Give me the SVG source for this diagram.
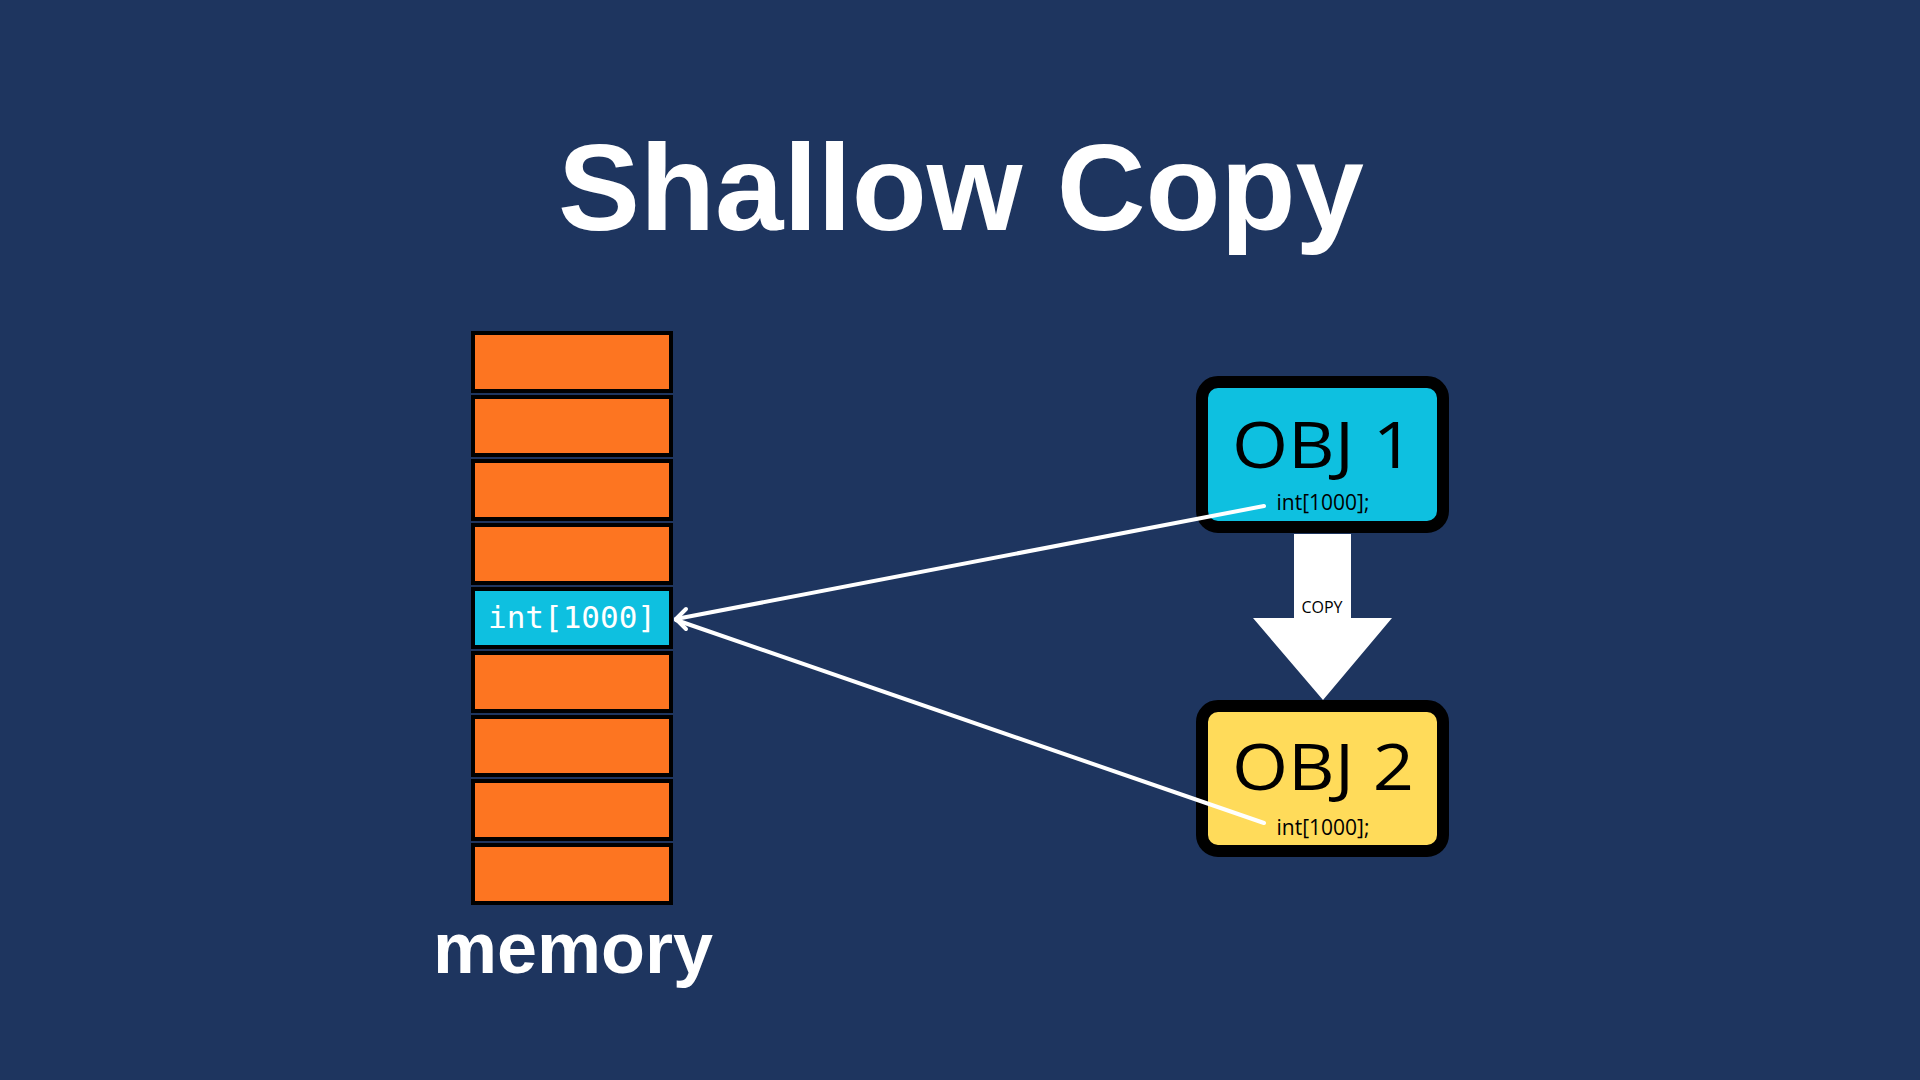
<svg xmlns="http://www.w3.org/2000/svg" width="1920" height="1080" viewBox="0 0 1920 1080">
<style>
.cell{fill:#fd7521;stroke:#000;stroke-width:4}
.cellb{fill:#0ec0e0;stroke:#000;stroke-width:4}
.obj{stroke:#000;stroke-width:12}
.big{font-family:"Open Sans","Noto Sans",sans-serif;font-size:64px;fill:#000;text-anchor:middle}
.small{font-family:"Open Sans","Noto Sans",sans-serif;font-size:21px;fill:#000;text-anchor:middle}
.conn{stroke:#fff;stroke-width:4;fill:none;stroke-linecap:round;stroke-linejoin:round}
</style>
<rect width="1920" height="1080" fill="#1e355f"/>
<text x="961" y="230" font-family="Liberation Sans, Arial, sans-serif" font-weight="bold" font-size="122" fill="#fff" text-anchor="middle" textLength="806" lengthAdjust="spacingAndGlyphs">Shallow Copy</text>
<g id="memory">
<rect class="cell" x="473" y="333" width="198" height="58"/>
<rect class="cell" x="473" y="397" width="198" height="58"/>
<rect class="cell" x="473" y="461" width="198" height="58"/>
<rect class="cell" x="473" y="525" width="198" height="58"/>
<rect class="cellb" x="473" y="589" width="198" height="58"/>
<text x="572" y="628" font-family="DejaVu Sans Mono, monospace" font-size="31" fill="#fff" text-anchor="middle">int[1000]</text>
<rect class="cell" x="473" y="653" width="198" height="58"/>
<rect class="cell" x="473" y="717" width="198" height="58"/>
<rect class="cell" x="473" y="781" width="198" height="58"/>
<rect class="cell" x="473" y="845" width="198" height="58"/>
<text x="573" y="973" font-family="Liberation Sans, Arial, sans-serif" font-weight="bold" font-size="72" fill="#fff" text-anchor="middle">memory</text>
</g>
<g id="obj1">
<rect class="obj" x="1202" y="382" width="241" height="145" rx="16" fill="#0ec0e0"/>
<text class="big" x="1323" y="468" textLength="182" lengthAdjust="spacingAndGlyphs">OBJ 1</text>
<text class="small" x="1323" y="510">int[1000];</text>
</g>
<g id="obj2">
<rect class="obj" x="1202" y="706" width="241" height="145" rx="16" fill="#ffdb5a"/>
<text class="big" x="1323" y="790" textLength="182" lengthAdjust="spacingAndGlyphs">OBJ 2</text>
<text class="small" x="1323" y="835">int[1000];</text>
</g>
<g id="connectors">
<path d="M1294 534 H1351 V618 H1392 L1323 700 L1253 618 H1294 Z" fill="#fff"/>
<text x="1322" y="613" font-family="Open Sans, Noto Sans, sans-serif" font-size="16" fill="#000" text-anchor="middle">COPY</text>
<line class="conn" x1="1264" y1="506" x2="676" y2="619"/>
<line class="conn" x1="1264" y1="823" x2="676" y2="620"/>
<path class="conn" d="M686 609 L676 619 L686 629"/>
</g>
</svg>
